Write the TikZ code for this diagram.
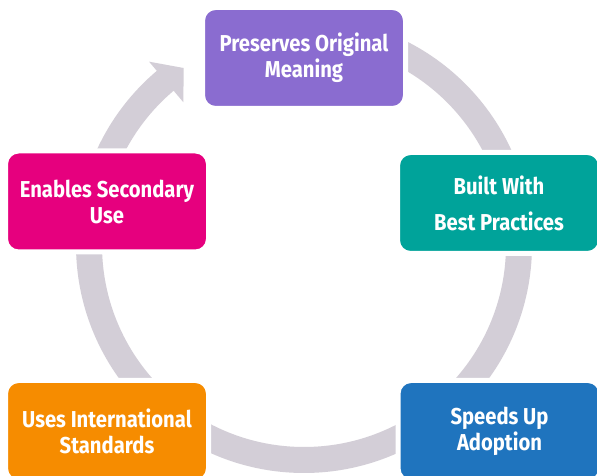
\documentclass[tikz,border=0pt]{standalone}
\usepackage{fontspec}
\newfontfamily\lblfont[FakeStretch=0.88]{Fira Sans}
\usetikzlibrary{calc}
\definecolor{ringgray}{RGB}{211,206,215}
\definecolor{cpurple}{RGB}{138,108,208}
\definecolor{cteal}{RGB}{0,163,154}
\definecolor{cmagenta}{RGB}{230,0,126}
\definecolor{corange}{RGB}{246,140,0}
\definecolor{cblue}{RGB}{31,116,190}
\tikzset{
  box/.style={rounded corners=13pt, draw=white, line width=5pt,
    minimum width=203pt, minimum height=101pt, text=white,
    font=\lblfont\bfseries\fontsize{23}{26}\selectfont, align=center, inner sep=0pt},
  ring/.style={draw=ringgray, line width=26pt}
}
\begin{document}
\begin{tikzpicture}[x=1pt,y=1pt]
\useasboundingbox (0,0) rectangle (597,476);
\clip (0,0) rectangle (597,476);
\fill[white] (0,0) rectangle (597,476);
\coordinate (c) at (304,231);
\draw[ring] ($(c)+(90:215)$) arc[start angle=90, end angle=-230, radius=215];
\fill[ringgray] ($(c)+(130.2:187)$) -- ($(c)+(124.2:214)$) -- ($(c)+(130.2:240)$) -- cycle;
\node[box, fill=cpurple] (pres) at (304,418) {Preserves Original\\Meaning};
\node[box, fill=cteal] (built) at (499,273) {Built With\\[10pt]Best Practices};
\node[box, fill=cblue] (speed) at (499.5,45) {Speeds Up\\Adoption};
\node[box, fill=corange] (uses) at (107,45) {Uses International\\Standards};
\node[box, fill=cmagenta] (enab) at (107,274.5) {Enables Secondary\\Use};
\end{tikzpicture}
\end{document}
